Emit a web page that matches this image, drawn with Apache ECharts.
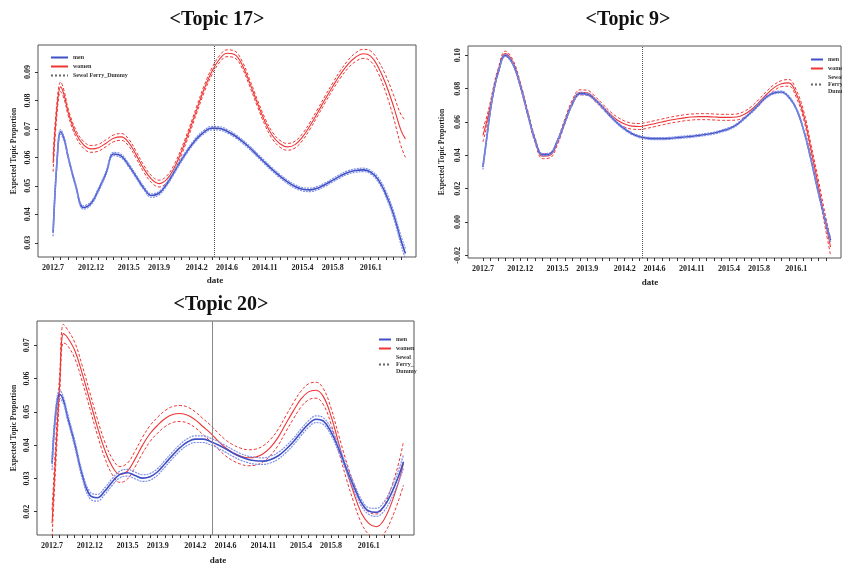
<!DOCTYPE html>
<html>
<head>
<meta charset="utf-8">
<script src="https://cdn.jsdelivr.net/npm/echarts@6/dist/echarts.min.js"></script>
<style>
html, body { margin: 0; padding: 0; background: #fff; }
#chart-container { width: 842px; height: 566px; }
</style>
</head>
<body>
<div id="chart-container"></div>
<script>
// months since 2012.7
var months = [0, 0.5, 1, 1.5, 2, 3, 4, 5, 6, 7, 8, 9, 10, 11, 12, 13, 14, 15, 16, 17, 18, 19, 20,
    21, 22, 23, 24, 25, 26, 27, 28, 29, 30, 31, 32, 33, 34, 35, 36, 37, 38, 39, 40, 41, 42, 43,
    44, 45, 46, 46.6];
var tickMonths = [0, 1, 2, 3, 4, 5, 6, 7, 8, 9, 10, 11, 12, 13, 14, 15, 16, 17, 18, 19, 20, 21,
    22, 23, 24, 25, 26, 27, 28, 29, 30, 31, 32, 33, 34, 35, 36, 37, 38, 39, 40, 41, 42, 43, 44, 45, 46];
var labelMonths = [0, 5, 10, 14, 19, 23, 28, 33, 37, 42];
var labelNames = ['2012.7', '2012.12', '2013.5', '2013.9', '2014.2', '2014.6', '2014.11', '2015.4', '2015.8', '2016.1'];
var ferryMonth = 21.3;

// Topic 17
var t17Men = [0.0335, 0.058, 0.069, 0.066, 0.060, 0.050, 0.0424, 0.0438, 0.0486, 0.0545,
    0.0612, 0.0605, 0.0572, 0.0532, 0.0492, 0.0466, 0.0474, 0.0505, 0.0548, 0.0592,
    0.0632, 0.0666, 0.069, 0.0703, 0.0702, 0.0692, 0.0677, 0.0657, 0.0634, 0.0608,
    0.0582, 0.0557, 0.0534, 0.0514, 0.0498, 0.0488, 0.0486, 0.0492, 0.0505, 0.052,
    0.0535, 0.0547, 0.0554, 0.0556, 0.0548, 0.0522, 0.0472, 0.0402, 0.031, 0.0262];
var t17MenBand = [0.0012, 0.001, 0.0008, 0.0007, 0.0006, 0.0006, 0.0006, 0.0006, 0.0006, 0.0006,
    0.0006, 0.0006, 0.0006, 0.0006, 0.0006, 0.0006, 0.0006, 0.0006, 0.0006, 0.0006,
    0.0006, 0.0006, 0.0006, 0.0006, 0.0006, 0.0006, 0.0006, 0.0006, 0.0006, 0.0006,
    0.0006, 0.0006, 0.0006, 0.0006, 0.0006, 0.0006, 0.0006, 0.0006, 0.0006, 0.0006,
    0.0006, 0.0006, 0.0006, 0.0006, 0.0006, 0.0008, 0.001, 0.0012, 0.0015, 0.0018];
var t17Women = [0.058, 0.077, 0.0848, 0.0815, 0.0758, 0.0685, 0.0645, 0.063, 0.0634, 0.065,
    0.0667, 0.0672, 0.0652, 0.0608, 0.056, 0.0524, 0.0508, 0.0522, 0.0562, 0.0622,
    0.0692, 0.0768, 0.0842, 0.0902, 0.0945, 0.0966, 0.0962, 0.0926, 0.0862, 0.0792,
    0.0727, 0.0677, 0.0648, 0.0637, 0.0645, 0.0672, 0.0712, 0.0758, 0.0805, 0.085,
    0.0892, 0.0927, 0.0952, 0.0964, 0.0956, 0.0918, 0.0858, 0.0782, 0.0696, 0.0665];
var t17WomenBand = [0.003, 0.0022, 0.0017, 0.0014, 0.0012, 0.0012, 0.0012, 0.0012, 0.0012, 0.0012,
    0.0012, 0.0012, 0.0012, 0.0012, 0.0012, 0.0012, 0.0012, 0.0012, 0.0012, 0.0012,
    0.0012, 0.0012, 0.0012, 0.0012, 0.0012, 0.0012, 0.0012, 0.0012, 0.0012, 0.0012,
    0.0012, 0.0012, 0.0012, 0.0012, 0.0012, 0.0012, 0.0012, 0.0012, 0.0012, 0.0012,
    0.0013, 0.0014, 0.0015, 0.0016, 0.0018, 0.0022, 0.003, 0.004, 0.0055, 0.0065];

// Topic 9
var t9Men = [0.033, 0.050, 0.067, 0.080, 0.089, 0.100, 0.095, 0.082, 0.065, 0.049,
    0.0404, 0.041, 0.0487, 0.060, 0.071, 0.077, 0.0766, 0.0735, 0.069, 0.064,
    0.0595, 0.0558, 0.053, 0.0512, 0.0503, 0.050, 0.050, 0.0502, 0.0506, 0.051,
    0.0514, 0.052, 0.0526, 0.0534, 0.0546, 0.056, 0.0584, 0.062, 0.066, 0.0706,
    0.075, 0.0774, 0.078, 0.075, 0.068, 0.055, 0.037, 0.017, -0.001, -0.011];
var t9MenBand = [0.0015, 0.001, 0.0008, 0.0007, 0.0006, 0.0006, 0.0006, 0.0006, 0.0006, 0.0006,
    0.0006, 0.0006, 0.0006, 0.0006, 0.0006, 0.0006, 0.0006, 0.0006, 0.0006, 0.0006,
    0.0006, 0.0006, 0.0006, 0.0006, 0.0006, 0.0006, 0.0006, 0.0006, 0.0006, 0.0006,
    0.0006, 0.0006, 0.0006, 0.0006, 0.0006, 0.0006, 0.0006, 0.0006, 0.0006, 0.0006,
    0.0006, 0.0006, 0.0006, 0.0006, 0.0006, 0.0006, 0.0006, 0.0008, 0.001, 0.0012];
var t9Women = [0.052, 0.060, 0.070, 0.081, 0.090, 0.101, 0.096, 0.0825, 0.0655, 0.049,
    0.0395, 0.040, 0.048, 0.0605, 0.0718, 0.0778, 0.0775, 0.074, 0.0695, 0.065,
    0.0612, 0.0588, 0.0575, 0.0573, 0.058, 0.059, 0.060, 0.061, 0.0618, 0.0625,
    0.063, 0.0632, 0.0632, 0.063, 0.0628, 0.0628, 0.063, 0.0645, 0.0675, 0.0718,
    0.0765, 0.0805, 0.083, 0.0835, 0.077, 0.064, 0.043, 0.021, -0.002, -0.015];
var t9WomenBand = [0.004, 0.003, 0.0022, 0.0018, 0.0015, 0.0015, 0.0015, 0.0015, 0.0015, 0.0015,
    0.0015, 0.0015, 0.0015, 0.0015, 0.0015, 0.0015, 0.0015, 0.0015, 0.0015, 0.0015,
    0.0018, 0.0018, 0.0018, 0.0018, 0.0018, 0.0018, 0.0018, 0.0018, 0.0018, 0.0018,
    0.0018, 0.0018, 0.0018, 0.0018, 0.0018, 0.0018, 0.0018, 0.0018, 0.0018, 0.0018,
    0.0018, 0.0018, 0.0018, 0.002, 0.0022, 0.0025, 0.003, 0.0035, 0.004, 0.005];

// Topic 20
var t20Men = [0.0345, 0.050, 0.0553, 0.0535, 0.049, 0.0405, 0.031, 0.025, 0.0242, 0.0262,
    0.029, 0.0312, 0.0317, 0.0309, 0.0301, 0.0305, 0.032, 0.0345, 0.037, 0.0393,
    0.041, 0.0418, 0.0418, 0.0411, 0.0401, 0.0389, 0.0376, 0.0365, 0.0357, 0.0353,
    0.0352, 0.0357, 0.0368, 0.0387, 0.041, 0.0438, 0.0463, 0.0478, 0.0472, 0.044,
    0.039, 0.0332, 0.0277, 0.0228, 0.0202, 0.0198, 0.0215, 0.0255, 0.031, 0.035];
var t20MenBand = [0.002, 0.0015, 0.0012, 0.001, 0.001, 0.001, 0.001, 0.001, 0.001, 0.001,
    0.001, 0.001, 0.001, 0.001, 0.001, 0.001, 0.001, 0.001, 0.001, 0.001,
    0.001, 0.001, 0.001, 0.001, 0.001, 0.001, 0.001, 0.001, 0.001, 0.001,
    0.001, 0.001, 0.001, 0.001, 0.001, 0.001, 0.001, 0.001, 0.001, 0.001,
    0.001, 0.001, 0.001, 0.001, 0.001, 0.0012, 0.0014, 0.0016, 0.0018, 0.002];
var t20Women = [0.0165, 0.038, 0.058, 0.0735, 0.0725, 0.0685, 0.0615, 0.0535, 0.0455, 0.0385,
    0.0335, 0.0312, 0.0322, 0.0358, 0.040, 0.0435, 0.046, 0.048, 0.0492, 0.0495,
    0.049, 0.0476, 0.0456, 0.0436, 0.0413, 0.0392, 0.0377, 0.0367, 0.0362, 0.0364,
    0.0374, 0.0394, 0.0424, 0.0464, 0.0503, 0.0538, 0.056, 0.0565, 0.0545, 0.0487,
    0.0407, 0.0327, 0.0257, 0.0197, 0.0165, 0.0155, 0.0175, 0.0225, 0.0293, 0.0345];
var t20WomenBand = [0.004, 0.0035, 0.003, 0.0028, 0.0024, 0.0024, 0.0024, 0.0024, 0.0024, 0.0024,
    0.0024, 0.0024, 0.0024, 0.0024, 0.0024, 0.0024, 0.0024, 0.0024, 0.0024, 0.0024,
    0.0024, 0.0024, 0.0024, 0.0024, 0.0024, 0.0024, 0.0024, 0.0024, 0.0024, 0.0024,
    0.0024, 0.0024, 0.0024, 0.0024, 0.0024, 0.0024, 0.0024, 0.0024, 0.0024, 0.0024,
    0.0024, 0.0026, 0.0028, 0.003, 0.0034, 0.0038, 0.0042, 0.0048, 0.0056, 0.0065];

var t17Ticks = [0.03, 0.04, 0.05, 0.06, 0.07, 0.08, 0.09];
var t9Ticks = [-0.02, 0, 0.02, 0.04, 0.06, 0.08, 0.10];
var t20Ticks = [0.02, 0.03, 0.04, 0.05, 0.06, 0.07];

var serif = '"Liberation Serif", "Times New Roman", serif';
var blue = '#3f50c6', blueBand = '#7f8fe6', red = '#ee3535';

var dom = document.getElementById('chart-container');
var myChart = echarts.init(dom, null, { renderer: 'canvas' });

function xAxisFor(gi, shift, gap) {
    return {
        type: 'value', gridIndex: gi, min: -2, max: 48,
        name: 'date', nameLocation: 'middle', nameGap: gap,
        nameTextStyle: { fontFamily: serif, fontWeight: 'bold', fontSize: 9, color: '#222', padding: [0, shift, 0, 0] },
        axisLine: { show: false, onZero: false },
        splitLine: { show: false },
        axisTick: { show: true, customValues: tickMonths, length: 3, lineStyle: { color: '#333' } },
        axisLabel: {
            customValues: labelMonths,
            formatter: function (v) {
                var i = labelMonths.indexOf(v);
                return i < 0 ? '' : labelNames[i];
            },
            fontFamily: serif, fontWeight: 'bold', fontSize: 8, color: '#222', margin: 7
        }
    };
}

function yAxisFor(gi, min, max, ticks, gap) {
    return {
        type: 'value', gridIndex: gi, min: min, max: max,
        name: 'Expected Topic Proportion', nameLocation: 'middle', nameGap: gap, nameRotate: 90,
        nameTextStyle: { fontFamily: serif, fontWeight: 'bold', fontSize: 7.5, color: '#222' },
        axisLine: { show: false, onZero: false },
        splitLine: { show: false },
        axisTick: { show: true, customValues: ticks, length: 3, lineStyle: { color: '#333' } },
        axisLabel: {
            customValues: ticks, rotate: 90,
            formatter: function (v) { return v.toFixed(2); },
            fontFamily: serif, fontWeight: 'bold', fontSize: 8, color: '#222', margin: 6
        }
    };
}

function line(gi, name, vals, band, sign, color, width, type, z) {
    return {
        name: name, type: 'line', xAxisIndex: gi, yAxisIndex: gi,
        data: months.map(function (m, i) { return [m, vals[i] + sign * band[i]]; }),
        symbol: 'none', smooth: 0.4, z: z, silent: true,
        lineStyle: { color: color, width: width, type: type },
        itemStyle: { color: color }
    };
}

function panel(gi, men, menBand, women, womenBand, ferryType) {
    var zero = months.map(function () { return 0; });
    return [
        line(gi, 'women', women, zero, 0, red, 1.1, 'solid', 3),
        line(gi, 'women_hi', women, womenBand, 1, red, 1, [3, 2], 3),
        line(gi, 'women_lo', women, womenBand, -1, red, 1, [3, 2], 3),
        line(gi, 'men', men, zero, 0, blue, 1.6, 'solid', 4),
        line(gi, 'men_hi', men, menBand, 1, blueBand, 1.2, [2, 1], 4),
        line(gi, 'men_lo', men, menBand, -1, blueBand, 1.2, [2, 1], 4),
        {
            name: 'Sewol Ferry_Dummy', type: 'line', xAxisIndex: gi, yAxisIndex: gi,
            data: [], symbol: 'none',
            lineStyle: { color: '#666', width: 1, type: 'dotted' },
            itemStyle: { color: '#666' },
            markLine: {
                symbol: 'none', silent: true, animation: false,
                label: { show: false },
                lineStyle: { color: ferryType === 'solid' ? '#888' : '#555', width: 1, type: ferryType },
                data: [{ xAxis: ferryMonth }]
            }
        }
    ];
}

function legendFor(left, top, lineW, wrap) {
    return {
        data: ['men', 'women', 'Sewol Ferry_Dummy'],
        orient: 'vertical', left: left, top: top,
        itemWidth: lineW, itemHeight: 6, itemGap: 2, selectedMode: false,
        itemStyle: { opacity: 0 },
        formatter: function (name) {
            return (wrap && name === 'Sewol Ferry_Dummy') ? 'Sewol\nFerry_\nDummy' : name;
        },
        textStyle: { fontFamily: serif, fontWeight: 'bold', fontSize: 6, lineHeight: 7, color: '#333' }
    };
}

var titleStyle = { fontFamily: serif, fontWeight: 'bold', fontSize: 20, color: '#111' };

var option = {
    animation: false,
    backgroundColor: '#fff',
    title: [
        { text: '<Topic 17>', left: 212, top: 5, textAlign: 'center', textStyle: titleStyle },
        { text: '<Topic 9>', left: 623, top: 5, textAlign: 'center', textStyle: titleStyle },
        { text: '<Topic 20>', left: 216, top: 290, textAlign: 'center', textStyle: titleStyle }
    ],
    legend: [legendFor(45, 49, 17, false), legendFor(805, 51, 12, true), legendFor(373, 331, 12, true)],
    grid: [
        { left: 38, top: 45, width: 378, height: 212, show: true, borderColor: '#555', borderWidth: 1 },
        { left: 468, top: 46, width: 373, height: 212, show: true, borderColor: '#555', borderWidth: 1 },
        { left: 37, top: 321, width: 377, height: 214, show: true, borderColor: '#555', borderWidth: 1 }
    ],
    xAxis: [xAxisFor(0, 24, 19), xAxisFor(1, 9, 20), xAxisFor(2, 15, 21)],
    yAxis: [
        yAxisFor(0, 0.025, 0.0995, t17Ticks, 20),
        yAxisFor(1, -0.0216, 0.1056, t9Ticks, 22),
        yAxisFor(2, 0.013, 0.0773, t20Ticks, 19)
    ],
    series: [].concat(
        panel(0, t17Men, t17MenBand, t17Women, t17WomenBand, 'dotted'),
        panel(1, t9Men, t9MenBand, t9Women, t9WomenBand, 'dotted'),
        panel(2, t20Men, t20MenBand, t20Women, t20WomenBand, 'solid')
    )
};

if (option && typeof option === 'object') {
    myChart.setOption(option);
}

window.addEventListener('resize', myChart.resize);
</script>
</body>
</html>
